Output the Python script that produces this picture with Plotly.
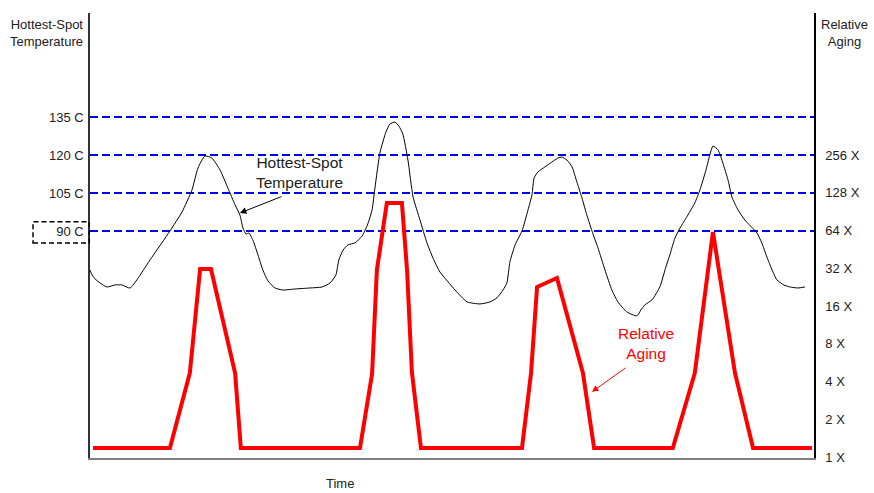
import plotly.graph_objects as go

# ---- data ----
time_temp = [0.00, 0.07, 0.20, 0.33, 0.56, 0.83, 1.06, 1.33, 1.99, 2.65,
             3.05, 3.38, 3.58, 3.81, 4.04, 4.31, 4.57, 4.81, 4.97, 5.07,
             5.17, 5.27, 5.40, 5.57, 5.73, 5.90, 6.13, 6.40, 6.79, 7.29,
             7.69, 7.96, 8.15, 8.25, 8.39, 8.55, 8.78, 9.02, 9.21, 9.35,
             9.45, 9.61, 9.81, 9.94, 10.11, 10.24, 10.37, 10.54, 10.71, 10.94,
             11.17, 11.37, 11.60, 11.87, 12.10, 12.50, 12.93, 13.26, 13.49, 13.69,
             13.82, 13.92, 14.09, 14.32, 14.52, 14.65, 14.72, 14.85, 15.08, 15.31,
             15.51, 15.64, 15.81, 15.98, 16.14, 16.31, 16.44, 16.64, 16.84, 17.07,
             17.30, 17.50, 17.80, 18.13, 18.26, 18.39, 18.63, 18.89, 19.09, 19.22,
             19.39, 19.56, 19.82, 20.05, 20.22, 20.42, 20.65, 20.82, 20.98, 21.15,
             21.28, 21.48, 21.71, 22.11, 22.27, 22.44, 22.61, 22.77, 23.00, 23.20,
             23.47, 23.70]
hot_spot_temp = [74.6, 72.6, 70.7, 69.5, 67.9, 68.7, 68.7, 67.5, 78.6, 90.0,
                 97.5, 106.2, 114.9, 119.6, 118.8, 114.1, 107.0, 100.3, 96.3, 91.2,
                 88.8, 89.2, 86.4, 80.5, 74.6, 70.3, 67.5, 66.7, 67.1, 67.5,
                 67.9, 69.5, 72.6, 78.6, 82.5, 84.5, 85.3, 88.0, 92.8, 98.3,
                 107.4, 120.8, 129.1, 132.2, 133.0, 131.4, 128.3, 118.0, 103.4, 94.3,
                 85.3, 79.3, 73.8, 69.9, 66.7, 62.0, 61.2, 62.0, 63.6, 66.7,
                 69.5, 77.8, 84.5, 90.0, 98.3, 104.2, 110.9, 113.3, 115.3, 117.2,
                 118.8, 119.2, 118.0, 115.3, 109.3, 103.0, 97.5, 90.0, 83.3, 74.6,
                 66.7, 62.0, 58.0, 56.5, 58.8, 60.8, 62.8, 67.9, 75.8, 80.5,
                 87.2, 91.2, 96.3, 101.1, 106.2, 114.1, 123.5, 122.0, 116.8, 110.1,
                 103.4, 98.3, 94.3, 89.2, 85.3, 79.7, 74.6, 70.7, 68.7, 67.9,
                 67.5, 67.9]

time_aging = [0.10, 2.65, 3.31, 3.65, 4.01, 4.81, 5.00, 8.95, 9.35, 9.51,
              9.84, 10.34, 10.51, 10.67, 10.97, 14.32, 14.62, 14.82, 15.48, 16.34,
              16.71, 19.32, 20.05, 20.65, 21.38, 21.98, 23.93]
relative_aging = [1.18, 1.18, 4.68, 31.6, 31.6, 4.68, 1.18, 1.18, 4.59, 31.0,
                  106, 106, 31.0, 4.76, 1.18, 1.18, 4.68, 22.7, 26.8, 4.68,
                  1.18, 1.18, 4.68, 62.3, 4.68, 1.18, 1.18]

temp_ticks = [90, 105, 120, 135]
temp_labels = ["90 C", "105 C", "120 C", "135 C"]
aging_ticks = [1, 2, 4, 8, 16, 32, 64, 128, 256]
aging_labels = ["1 X", "2 X", "4 X", "8 X", "16 X", "32 X", "64 X", "128 X", "256 X"]

FONT = "Arial, Liberation Sans, Helvetica, sans-serif"
TXT = "#222222"

fig = go.Figure()
fig.add_trace(go.Scatter(
    x=time_temp, y=hot_spot_temp, mode="lines",
    line=dict(color="black", width=1, shape="spline", smoothing=0.5),
    yaxis="y", showlegend=False, hoverinfo="skip"))
fig.add_trace(go.Scatter(
    x=time_aging, y=relative_aging, mode="lines",
    line=dict(color="#ff0000", width=4),
    yaxis="y2", showlegend=False, hoverinfo="skip"))

fig.update_layout(
    width=874, height=493,
    margin=dict(l=90, r=60, t=13, b=35),
    paper_bgcolor="white", plot_bgcolor="white",
    font=dict(family=FONT, size=13, color=TXT),
    xaxis=dict(range=[0, 24], showticklabels=False, ticks="", showgrid=False,
               zeroline=False, showline=True, linecolor="#808080", linewidth=1.5),
    yaxis=dict(range=[0.39, 176.05], tickvals=temp_ticks, ticktext=temp_labels,
               ticks="", ticklabelstandoff=2, showgrid=True, gridcolor="#0000ee",
               gridwidth=1.5, griddash="8px,4px", zeroline=False,
               showline=True, linecolor="#333333", linewidth=1.5,
               tickfont=dict(size=13, color=TXT)),
    yaxis2=dict(type="log", range=[-0.008, 3.541], overlaying="y", side="right",
                tickvals=aging_ticks, ticktext=aging_labels, ticks="",
                ticklabelstandoff=7, showgrid=False, zeroline=False,
                showline=True, linecolor="black", linewidth=1.5,
                tickfont=dict(size=13, color=TXT)),
)

# dashed box around the 90 C label
fig.add_shape(type="rect", xref="paper", yref="y",
              x0=-0.0787, x1=-0.001, y0=85.3, y1=93.6,
              line=dict(color="black", width=1.5, dash="5px,3px"))

ann = [
    dict(text="Hottest-Spot<br>Temperature", xref="paper", yref="paper",
         x=-0.0069, y=0.955, xanchor="right", yanchor="middle", align="right",
         showarrow=False, font=dict(size=13, color=TXT)),
    dict(text="Relative<br>Aging", xref="paper", yref="paper",
         x=1.0428, y=0.955, xanchor="center", yanchor="middle", align="center",
         showarrow=False, font=dict(size=13, color=TXT)),
    dict(text="Time", xref="paper", yref="paper", x=0.345, y=-0.0584,
         xanchor="center", yanchor="middle", showarrow=False,
         font=dict(size=13, color=TXT)),
    dict(text="Hottest-Spot<br>Temperature", xref="x", yref="y",
         x=6.93, y=113.0, xanchor="center", yanchor="middle", align="center",
         showarrow=False, font=dict(size=15.5, color=TXT)),
    dict(text="", xref="x", yref="y", x=4.97, y=97.1, ax=43, ay=-17,
         showarrow=True, arrowhead=2, arrowsize=1.3, arrowwidth=1,
         arrowcolor="black"),
    dict(text="Relative<br>Aging", xref="x", yref="y",
         x=18.43, y=45.5, xanchor="center", yanchor="middle", align="center",
         showarrow=False, font=dict(size=15.5, color="#ff0000")),
    dict(text="", xref="x", yref="y", x=16.64, y=26.5, ax=35, ay=-25,
         showarrow=True, arrowhead=2, arrowsize=1.3, arrowwidth=1,
         arrowcolor="#ff0000"),
]
fig.update_layout(annotations=ann)

fig.write_html("out.html", config={"displayModeBar": False},
               post_script="document.body.style.margin='0';")
